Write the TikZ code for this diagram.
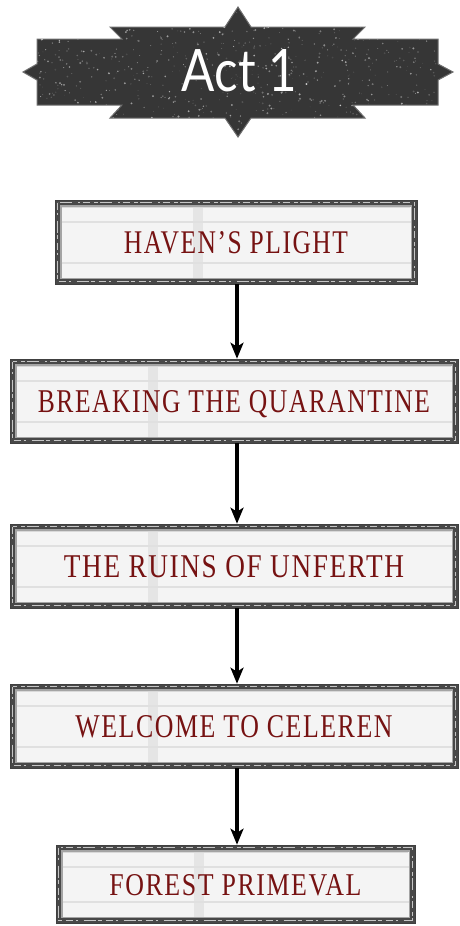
\documentclass[tikz,border=0pt]{standalone}
\usepackage{fontspec}
\setmainfont{Liberation Serif}
\newfontfamily\actfont{Lato}
\newfontfamily\panelfont[LetterSpace=6]{Liberation Serif}
\usepackage{graphicx}
\usetikzlibrary{arrows.meta,calc}
\definecolor{framedark}{HTML}{484848}
\definecolor{framelight}{HTML}{A4A4A4}
\definecolor{paper}{HTML}{F4F4F4}
\definecolor{band}{HTML}{E0E0E0}
\definecolor{titlered}{HTML}{761212}
\definecolor{bannerfill}{HTML}{363636}
\definecolor{banneredge}{HTML}{6E6E6E}
\newcommand\bannershape{(23,72) -- (37,64) -- (37,39) -- (122,39) -- (110,27) -- (225,27) -- (238,7) -- (251,27) -- (365,27) -- (353,39) -- (438,39) -- (438,64) -- (453,72) -- (438,80) -- (438,105) -- (353,105) -- (365,118) -- (251,118) -- (238,137) -- (225,118) -- (110,118) -- (122,105) -- (37,105) -- (37,80) -- cycle}
\tikzset{
  panel/.style={rectangle, inner sep=0pt, minimum height=84pt, fill=framedark,
    draw=black!75, line width=0.6pt, text=titlered, text height=22pt, text depth=0pt,
    font=\panelfont,
    path picture={
      \path (path picture bounding box.north west) coordinate (pnw)
            (path picture bounding box.south east) coordinate (pse);
      \draw[gray!45, line width=0.8pt, dash pattern=on 7pt off 3pt on 2pt off 6pt on 12pt off 2pt on 4pt off 4pt]
        ($(pnw)+(2.5pt,-2.5pt)$) rectangle ($(pse)+(-2.5pt,2.5pt)$);
      \fill[framelight] ($(pnw)+(5pt,-5pt)$) rectangle ($(pse)+(-5pt,5pt)$);
      \fill[paper] ($(pnw)+(6.5pt,-6.5pt)$) rectangle ($(pse)+(-6.5pt,6.5pt)$);
      \fill[band, opacity=0.7] ($(pnw)+(138pt,-6.5pt)$) rectangle ($(pnw |- pse)+(148pt,6.5pt)$);
      \draw[band, line width=1.6pt] ($(pnw)+(6.5pt,-22pt)$) -- ($(pse |- pnw)+(-6.5pt,-22pt)$);
      \draw[band, line width=1.6pt] ($(pnw |- pse)+(6.5pt,21pt)$) -- ($(pse)+(-6.5pt,21pt)$);
      \draw[gray!30, line width=0.8pt] ($(pnw)+(7pt,-7.5pt)$) -- ($(pse |- pnw)+(-7pt,-7.5pt)$);
    }},
  flowarrow/.style={line width=3.6pt, -{Stealth[length=16pt,width=13pt,inset=4pt]}},
  actlabel/.style={text=white, font=\actfont, inner sep=0pt},
}
\begin{document}
\begin{tikzpicture}[x=1pt,y=-1pt]
\useasboundingbox (0,0) rectangle (460,926);
% banner
\filldraw[fill=bannerfill, draw=banneredge, line width=1pt] \bannershape;
\begin{scope}
  \clip \bannershape;
  \pgfmathsetseed{42}
  \foreach \i in {1,...,800}{
    \pgfmathsetmacro\rx{37+401*rnd}
    \pgfmathsetmacro\ry{7+130*rnd}
    \pgfmathsetmacro\rr{0.3+0.8*rnd}
    \pgfmathsetmacro\ro{0.1+0.5*rnd}
    \fill[white, opacity=\ro] (\rx,\ry) circle (\rr pt);
  }
\end{scope}
\node[actlabel] (act) at (239.5,71) {\resizebox{115pt}{42pt}{Act 1}};
% panels
\node[panel, minimum width=362pt] (b1) at (236,242) {\resizebox{224pt}{22pt}{HAVEN’S PLIGHT}};
\node[panel, minimum width=448pt] (b2) at (234,401) {\resizebox{392pt}{22pt}{BREAKING THE QUARANTINE}};
\node[panel, minimum width=448pt] (b3) at (234,566) {\resizebox{340pt}{22pt}{THE RUINS OF UNFERTH}};
\node[panel, minimum width=448pt] (b4) at (234,726) {\resizebox{317pt}{22pt}{WELCOME TO CELEREN}};
\node[panel, minimum width=359pt, minimum height=78pt] (b5) at (235.5,884) {\resizebox{252pt}{21pt}{FOREST PRIMEVAL}};
% arrows
\coordinate (ax) at (237,0);
\draw[flowarrow] (b1.south -| ax) -- (b2.north -| ax);
\draw[flowarrow] (b2.south -| ax) -- (b3.north -| ax);
\draw[flowarrow] (b3.south -| ax) -- (b4.north -| ax);
\draw[flowarrow] (b4.south -| ax) -- (b5.north -| ax);
\end{tikzpicture}
\end{document}
